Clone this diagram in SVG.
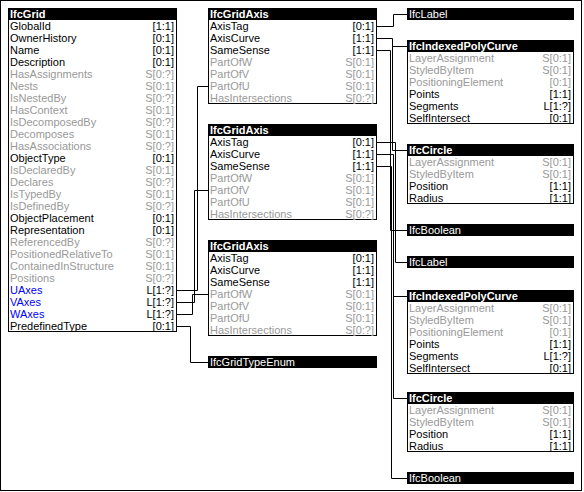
<svg xmlns="http://www.w3.org/2000/svg" width="584" height="492" viewBox="0 0 584 492">
<style>
text{font-family:"Liberation Sans",Arial,sans-serif;font-size:11px;fill:#000}
.hd{fill:#000}
.bx{fill:#fff;stroke:#000;stroke-width:1}
.ht{fill:#fff;font-weight:bold}
.hn{fill:#fff}
.g{fill:#999}
.u{fill:#0000ff}
.c{text-anchor:end}
.cn path{fill:none;stroke:#000;stroke-width:1}
</style>
<rect x="0.5" y="0.5" width="581" height="490" fill="#fff" stroke="#000"/>
<g class="cn">
<path d="M177 290.5H197.5V86.5H208"/>
<path d="M177 302.5H194.5V190.5H208"/>
<path d="M177 314.5H192.5V294.5H208"/>
<path d="M177 326.5H190.5V362.5H208"/>
<path d="M377 26.5H393.5V14.5H407"/>
<path d="M377 38.5H392.5V150.5H407M392.5 46.5H407"/>
<path d="M377 50.5H390.5V230.5H407"/>
<path d="M377 142.5H395.5V262.5H407"/>
<path d="M377 154.5H393.5V398.5H407M393.5 296.5H407"/>
<path d="M377 166.5H391.5V478.5H407"/>
</g>
<g id="IfcGrid" transform="translate(8,8)">
<rect class="bx" x="0.5" y="0.5" width="168" height="323"/>
<rect class="hd" x="0" y="0" width="169" height="12"/>
<text class="ht" x="2" y="10">IfcGrid</text>
<text x="2" y="22">GlobalId</text><text class="c" x="166" y="22">[1:1]</text>
<text x="2" y="34">OwnerHistory</text><text class="c" x="166" y="34">[0:1]</text>
<text x="2" y="46">Name</text><text class="c" x="166" y="46">[0:1]</text>
<text x="2" y="58">Description</text><text class="c" x="166" y="58">[0:1]</text>
<text class="g" x="2" y="70">HasAssignments</text><text class="g c" x="166" y="70">S[0:?]</text>
<text class="g" x="2" y="82">Nests</text><text class="g c" x="166" y="82">S[0:1]</text>
<text class="g" x="2" y="94">IsNestedBy</text><text class="g c" x="166" y="94">S[0:?]</text>
<text class="g" x="2" y="106">HasContext</text><text class="g c" x="166" y="106">S[0:1]</text>
<text class="g" x="2" y="118">IsDecomposedBy</text><text class="g c" x="166" y="118">S[0:?]</text>
<text class="g" x="2" y="130">Decomposes</text><text class="g c" x="166" y="130">S[0:1]</text>
<text class="g" x="2" y="142">HasAssociations</text><text class="g c" x="166" y="142">S[0:?]</text>
<text x="2" y="154">ObjectType</text><text class="c" x="166" y="154">[0:1]</text>
<text class="g" x="2" y="166">IsDeclaredBy</text><text class="g c" x="166" y="166">S[0:1]</text>
<text class="g" x="2" y="178">Declares</text><text class="g c" x="166" y="178">S[0:?]</text>
<text class="g" x="2" y="190">IsTypedBy</text><text class="g c" x="166" y="190">S[0:1]</text>
<text class="g" x="2" y="202">IsDefinedBy</text><text class="g c" x="166" y="202">S[0:?]</text>
<text x="2" y="214">ObjectPlacement</text><text class="c" x="166" y="214">[0:1]</text>
<text x="2" y="226">Representation</text><text class="c" x="166" y="226">[0:1]</text>
<text class="g" x="2" y="238">ReferencedBy</text><text class="g c" x="166" y="238">S[0:?]</text>
<text class="g" x="2" y="250">PositionedRelativeTo</text><text class="g c" x="166" y="250">S[0:1]</text>
<text class="g" x="2" y="262">ContainedInStructure</text><text class="g c" x="166" y="262">S[0:1]</text>
<text class="g" x="2" y="274">Positions</text><text class="g c" x="166" y="274">S[0:?]</text>
<text class="u" x="2" y="286">UAxes</text><text class="c" x="166" y="286">L[1:?]</text>
<text class="u" x="2" y="298">VAxes</text><text class="c" x="166" y="298">L[1:?]</text>
<text class="u" x="2" y="310">WAxes</text><text class="c" x="166" y="310">L[1:?]</text>
<text x="2" y="322">PredefinedType</text><text class="c" x="166" y="322">[0:1]</text>
</g>
<g id="IfcGridAxis1" transform="translate(208,8)">
<rect class="bx" x="0.5" y="0.5" width="168" height="95"/>
<rect class="hd" x="0" y="0" width="169" height="12"/>
<text class="ht" x="2" y="10">IfcGridAxis</text>
<text x="2" y="22">AxisTag</text><text class="c" x="166" y="22">[0:1]</text>
<text x="2" y="34">AxisCurve</text><text class="c" x="166" y="34">[1:1]</text>
<text x="2" y="46">SameSense</text><text class="c" x="166" y="46">[1:1]</text>
<text class="g" x="2" y="58">PartOfW</text><text class="g c" x="166" y="58">S[0:1]</text>
<text class="g" x="2" y="70">PartOfV</text><text class="g c" x="166" y="70">S[0:1]</text>
<text class="g" x="2" y="82">PartOfU</text><text class="g c" x="166" y="82">S[0:1]</text>
<text class="g" x="2" y="94">HasIntersections</text><text class="g c" x="166" y="94">S[0:?]</text>
</g>
<g id="IfcGridAxis2" transform="translate(208,124)">
<rect class="bx" x="0.5" y="0.5" width="168" height="95"/>
<rect class="hd" x="0" y="0" width="169" height="12"/>
<text class="ht" x="2" y="10">IfcGridAxis</text>
<text x="2" y="22">AxisTag</text><text class="c" x="166" y="22">[0:1]</text>
<text x="2" y="34">AxisCurve</text><text class="c" x="166" y="34">[1:1]</text>
<text x="2" y="46">SameSense</text><text class="c" x="166" y="46">[1:1]</text>
<text class="g" x="2" y="58">PartOfW</text><text class="g c" x="166" y="58">S[0:1]</text>
<text class="g" x="2" y="70">PartOfV</text><text class="g c" x="166" y="70">S[0:1]</text>
<text class="g" x="2" y="82">PartOfU</text><text class="g c" x="166" y="82">S[0:1]</text>
<text class="g" x="2" y="94">HasIntersections</text><text class="g c" x="166" y="94">S[0:?]</text>
</g>
<g id="IfcGridAxis3" transform="translate(208,240)">
<rect class="bx" x="0.5" y="0.5" width="168" height="95"/>
<rect class="hd" x="0" y="0" width="169" height="12"/>
<text class="ht" x="2" y="10">IfcGridAxis</text>
<text x="2" y="22">AxisTag</text><text class="c" x="166" y="22">[0:1]</text>
<text x="2" y="34">AxisCurve</text><text class="c" x="166" y="34">[1:1]</text>
<text x="2" y="46">SameSense</text><text class="c" x="166" y="46">[1:1]</text>
<text class="g" x="2" y="58">PartOfW</text><text class="g c" x="166" y="58">S[0:1]</text>
<text class="g" x="2" y="70">PartOfV</text><text class="g c" x="166" y="70">S[0:1]</text>
<text class="g" x="2" y="82">PartOfU</text><text class="g c" x="166" y="82">S[0:1]</text>
<text class="g" x="2" y="94">HasIntersections</text><text class="g c" x="166" y="94">S[0:?]</text>
</g>
<g id="IfcGridTypeEnum" transform="translate(208,356)">
<rect class="hd" x="0" y="0" width="169" height="12"/>
<text class="hn" x="2" y="10">IfcGridTypeEnum</text>
</g>
<g id="IfcLabel1" transform="translate(407,8)">
<rect class="hd" x="0" y="0" width="167" height="12"/>
<text class="hn" x="2" y="10">IfcLabel</text>
</g>
<g id="IfcIndexedPolyCurve1" transform="translate(407,40)">
<rect class="bx" x="0.5" y="0.5" width="166" height="83"/>
<rect class="hd" x="0" y="0" width="167" height="12"/>
<text class="ht" x="2" y="10">IfcIndexedPolyCurve</text>
<text class="g" x="2" y="22">LayerAssignment</text><text class="g c" x="164" y="22">S[0:1]</text>
<text class="g" x="2" y="34">StyledByItem</text><text class="g c" x="164" y="34">S[0:1]</text>
<text class="g" x="2" y="46">PositioningElement</text><text class="g c" x="164" y="46">[0:1]</text>
<text x="2" y="58">Points</text><text class="c" x="164" y="58">[1:1]</text>
<text x="2" y="70">Segments</text><text class="c" x="164" y="70">L[1:?]</text>
<text x="2" y="82">SelfIntersect</text><text class="c" x="164" y="82">[0:1]</text>
</g>
<g id="IfcCircle1" transform="translate(407,144)">
<rect class="bx" x="0.5" y="0.5" width="166" height="59"/>
<rect class="hd" x="0" y="0" width="167" height="12"/>
<text class="ht" x="2" y="10">IfcCircle</text>
<text class="g" x="2" y="22">LayerAssignment</text><text class="g c" x="164" y="22">S[0:1]</text>
<text class="g" x="2" y="34">StyledByItem</text><text class="g c" x="164" y="34">S[0:1]</text>
<text x="2" y="46">Position</text><text class="c" x="164" y="46">[1:1]</text>
<text x="2" y="58">Radius</text><text class="c" x="164" y="58">[1:1]</text>
</g>
<g id="IfcBoolean1" transform="translate(407,224)">
<rect class="hd" x="0" y="0" width="167" height="12"/>
<text class="hn" x="2" y="10">IfcBoolean</text>
</g>
<g id="IfcLabel2" transform="translate(407,256)">
<rect class="hd" x="0" y="0" width="167" height="12"/>
<text class="hn" x="2" y="10">IfcLabel</text>
</g>
<g id="IfcIndexedPolyCurve2" transform="translate(407,290)">
<rect class="bx" x="0.5" y="0.5" width="166" height="83"/>
<rect class="hd" x="0" y="0" width="167" height="12"/>
<text class="ht" x="2" y="10">IfcIndexedPolyCurve</text>
<text class="g" x="2" y="22">LayerAssignment</text><text class="g c" x="164" y="22">S[0:1]</text>
<text class="g" x="2" y="34">StyledByItem</text><text class="g c" x="164" y="34">S[0:1]</text>
<text class="g" x="2" y="46">PositioningElement</text><text class="g c" x="164" y="46">[0:1]</text>
<text x="2" y="58">Points</text><text class="c" x="164" y="58">[1:1]</text>
<text x="2" y="70">Segments</text><text class="c" x="164" y="70">L[1:?]</text>
<text x="2" y="82">SelfIntersect</text><text class="c" x="164" y="82">[0:1]</text>
</g>
<g id="IfcCircle2" transform="translate(407,392)">
<rect class="bx" x="0.5" y="0.5" width="166" height="59"/>
<rect class="hd" x="0" y="0" width="167" height="12"/>
<text class="ht" x="2" y="10">IfcCircle</text>
<text class="g" x="2" y="22">LayerAssignment</text><text class="g c" x="164" y="22">S[0:1]</text>
<text class="g" x="2" y="34">StyledByItem</text><text class="g c" x="164" y="34">S[0:1]</text>
<text x="2" y="46">Position</text><text class="c" x="164" y="46">[1:1]</text>
<text x="2" y="58">Radius</text><text class="c" x="164" y="58">[1:1]</text>
</g>
<g id="IfcBoolean2" transform="translate(407,472)">
<rect class="hd" x="0" y="0" width="167" height="12"/>
<text class="hn" x="2" y="10">IfcBoolean</text>
</g>
</svg>
